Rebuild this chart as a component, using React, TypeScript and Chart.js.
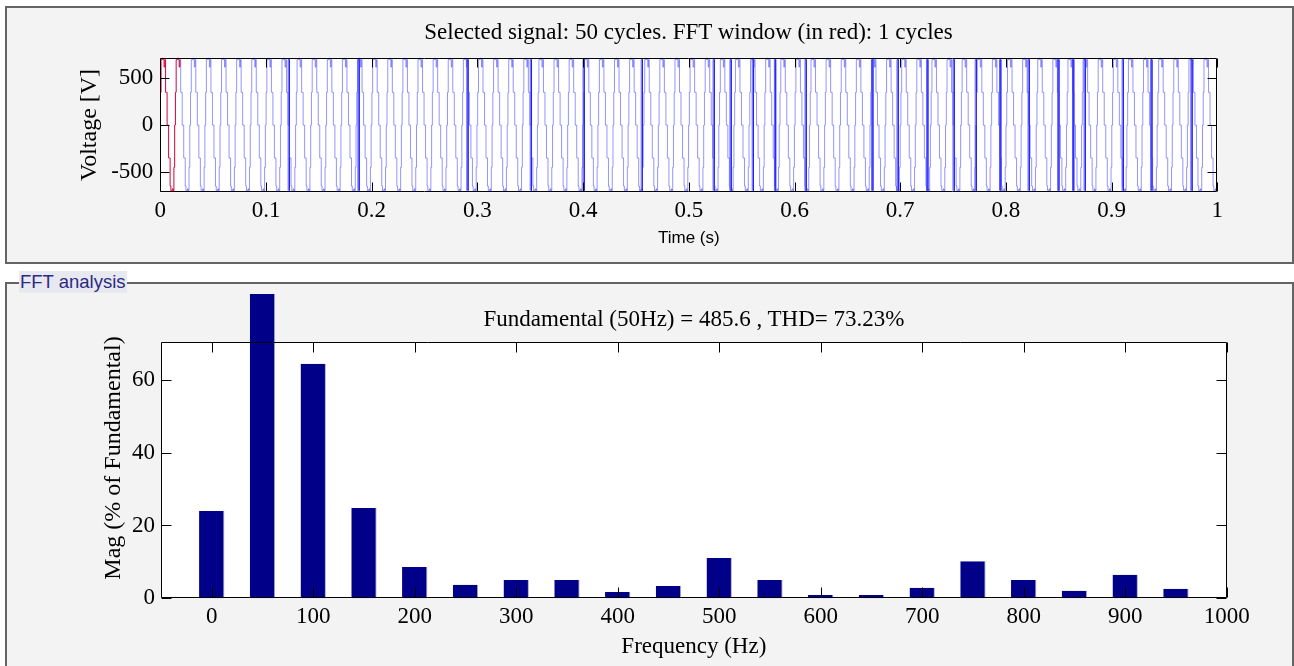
import React, { useEffect, useRef } from "react";
import { Chart, registerables } from "chart.js";

Chart.register(...registerables);

// ---------- data ----------
const timeTickValues = [0, 0.1, 0.2, 0.3, 0.4, 0.5, 0.6, 0.7, 0.8, 0.9, 1];
const voltageTickValues = [-500, 0, 500];
const freqTickValues = [0, 100, 200, 300, 400, 500, 600, 700, 800, 900, 1000];
const magTickValues = [0, 20, 40, 60];

const harmonicFrequencies = [0, 50, 100, 150, 200, 250, 300, 350, 400, 450, 500, 550, 600, 650, 700, 750, 800, 850, 900, 950];
const harmonicMagnitudes = [24.0, 100, 64.4, 24.8, 8.6, 3.7, 5.0, 5.0, 1.7, 3.4, 11.1, 5.0, 0.9, 0.9, 2.9, 10.2, 5.0, 2.1, 6.5, 2.6];

// one apparent cycle of the plotted stepped voltage trace (V)
const traceCycleLevels = [-700, -700, -680, -700, -450, 0, 350, 700, 700, 720, 700, 620, 700, 350, 350, 0, 0, -350, -350, -650];
const traceCycleDuration = 0.0143; // s, apparent period on screen
const traceStartPhase = 6;
const fftWindowEnd = 0.019; // s, red part
const signalDuration = 1; // s

// times (s) of the darker full-swing strokes seen in the trace
const strokeTimes = [
  0.121, 0.187, 0.29, 0.35, 0.4, 0.455,
  0.523, 0.539, 0.56, 0.581, 0.61, 0.673, 0.697, 0.725, 0.75, 0.771,
  0.794, 0.821, 0.849, 0.863, 0.874, 0.91, 0.937, 0.975,
];
const strokeLow = -700;
const strokeHigh = 700;
const strokeWidth = 0.0012; // s

// ---------- helpers ----------
function buildTrace() {
  const n = traceCycleLevels.length;
  const step = traceCycleDuration / n;
  const windowPts: { x: number; y: number }[] = [];
  const restPts: { x: number; y: number }[] = [];
  for (let i = 0; i * step <= signalDuration + 1e-9; i++) {
    const t = i * step;
    const v = traceCycleLevels[(i + traceStartPhase) % n];
    if (t <= fftWindowEnd) windowPts.push({ x: t, y: v });
    else {
      if (restPts.length === 0 && windowPts.length) restPts.push(windowPts[windowPts.length - 1]);
      restPts.push({ x: t, y: v });
    }
  }
  const strokePts: { x: number; y: number | null }[] = [];
  strokeTimes.forEach((t) => {
    strokePts.push({ x: t, y: strokeLow });
    strokePts.push({ x: t, y: strokeHigh });
    strokePts.push({ x: t + strokeWidth, y: strokeHigh });
    strokePts.push({ x: t + strokeWidth, y: strokeLow });
    strokePts.push({ x: t + strokeWidth * 1.5, y: null });
  });
  return { windowPts, restPts, strokePts };
}

const matlabAxes = {
  id: "matlabAxes",
  beforeDatasetsDraw(chart: any) {
    const { ctx, chartArea } = chart;
    ctx.save();
    ctx.fillStyle = "#ffffff";
    ctx.fillRect(chartArea.left, chartArea.top, chartArea.right - chartArea.left, chartArea.bottom - chartArea.top);
    ctx.restore();
  },
  afterDatasetsDraw(chart: any, _args: any, opts: any) {
    const { ctx, chartArea, scales } = chart;
    const { left, right, top, bottom } = chartArea;
    const len = opts.tickLength || 9;
    const L = Math.round(left) + 0.5;
    const R = Math.round(right) - 0.5;
    const T = Math.round(top) + 0.5;
    const B = Math.round(bottom) - 0.5;
    ctx.save();
    ctx.strokeStyle = "#000";
    ctx.lineWidth = 1;
    ctx.beginPath();
    ctx.rect(L, T, R - L, B - T);
    scales.x.ticks.forEach((t: any) => {
      const px = Math.round(scales.x.getPixelForValue(t.value)) + 0.5;
      ctx.moveTo(px, B);
      ctx.lineTo(px, B - len);
      ctx.moveTo(px, T);
      ctx.lineTo(px, T + len);
    });
    scales.y.ticks.forEach((t: any) => {
      const py = Math.round(scales.y.getPixelForValue(t.value)) + 0.5;
      ctx.moveTo(L, py);
      ctx.lineTo(L + len, py);
      ctx.moveTo(R, py);
      ctx.lineTo(R - len, py);
    });
    ctx.stroke();
    ctx.restore();
  },
};

const SERIF = '"Liberation Serif", "Times New Roman", serif';
const SANS = '"Liberation Sans", Arial, sans-serif';

export default function App() {
  const topRef = useRef<HTMLCanvasElement>(null);
  const botRef = useRef<HTMLCanvasElement>(null);

  useEffect(() => {
    const { windowPts, restPts, strokePts } = buildTrace();
    const topChart = new Chart(topRef.current as HTMLCanvasElement, {
      type: "line",
      data: {
        datasets: [
          { data: restPts, borderColor: "rgba(60,60,255,0.55)", borderWidth: 1, pointRadius: 0, stepped: true },
          { data: strokePts, borderColor: "rgba(30,30,255,0.75)", borderWidth: 1, pointRadius: 0, spanGaps: false },
          { data: windowPts, borderColor: "rgb(214,0,64)", borderWidth: 1, pointRadius: 0, stepped: true },
        ],
      },
      options: {
        animation: false,
        responsive: false,
        events: [],
        layout: { padding: { left: 0, top: 49.7, right: 76.7, bottom: 0 } },
        plugins: { legend: { display: false }, tooltip: { enabled: false }, matlabAxes: { tickLength: 9 } } as any,
        scales: {
          x: {
            type: "linear",
            min: 0,
            max: signalDuration,
            afterBuildTicks: (s: any) => {
              s.ticks = timeTickValues.map((v) => ({ value: v }));
            },
            afterFit: (s: any) => {
              s.height = 69.7;
            },
            grid: { display: false, drawTicks: false },
            border: { display: false },
            ticks: {
              padding: 5,
              color: "#000",
              maxRotation: 0,
              autoSkip: false,
              font: { family: SERIF, size: 23 },
              callback: (v: any) => String(v),
            },
            title: {
              display: true,
              text: "Time (s)",
              color: "#000",
              font: { family: SANS, size: 17 },
              padding: { top: 0, bottom: 13.8 },
            },
          },
          y: {
            type: "linear",
            min: -717,
            max: 720,
            afterBuildTicks: (s: any) => {
              s.ticks = voltageTickValues.map((v) => ({ value: v }));
            },
            afterFit: (s: any) => {
              s.width = 160.3;
            },
            grid: { display: false, drawTicks: false },
            border: { display: false },
            ticks: { padding: 7, color: "#000", font: { family: SERIF, size: 23 }, callback: (v: any) => String(v) },
            title: {
              display: true,
              text: "Voltage [V]",
              color: "#000",
              font: { family: SERIF, size: 24 },
              padding: { top: 75, bottom: 0 },
            },
          },
        },
      } as any,
      plugins: [matlabAxes as any],
    });

    const botChart = new Chart(botRef.current as HTMLCanvasElement, {
      type: "bar",
      data: {
        datasets: [
          {
            data: harmonicFrequencies.map((f, i) => ({ x: f, y: harmonicMagnitudes[i] })),
            backgroundColor: "#000088",
            borderColor: "#b0b0c0",
            borderWidth: { right: 1, top: 0, left: 0, bottom: 0 },
            barPercentage: 0.5,
            categoryPercentage: 1,
            clip: false,
          } as any,
        ],
      },
      options: {
        animation: false,
        responsive: false,
        events: [],
        layout: { padding: { left: 0, top: 48, right: 67.3, bottom: 0 } },
        plugins: { legend: { display: false }, tooltip: { enabled: false }, matlabAxes: { tickLength: 10 } } as any,
        scales: {
          x: {
            type: "linear",
            offset: false,
            min: -50,
            max: 1000,
            afterBuildTicks: (s: any) => {
              s.ticks = freqTickValues.map((v) => ({ value: v }));
            },
            afterFit: (s: any) => {
              s.height = 67.7;
            },
            grid: { display: false, drawTicks: false, offset: false },
            border: { display: false },
            ticks: {
              padding: 5,
              color: "#000",
              maxRotation: 0,
              autoSkip: false,
              font: { family: SERIF, size: 23 },
              callback: (v: any) => String(v),
            },
            title: {
              display: true,
              text: "Frequency (Hz)",
              color: "#000",
              font: { family: SERIF, size: 23 },
              padding: { top: 0, bottom: 5.2 },
            },
          },
          y: {
            type: "linear",
            min: 0,
            max: 70.4,
            afterBuildTicks: (s: any) => {
              s.ticks = magTickValues.map((v) => ({ value: v }));
            },
            afterFit: (s: any) => {
              s.width = 161;
            },
            grid: { display: false, drawTicks: false },
            border: { display: false },
            ticks: { padding: 6, color: "#000", font: { family: SERIF, size: 23 }, callback: (v: any) => String(v) },
            title: { display: false },
          },
        },
      } as any,
      plugins: [matlabAxes as any],
    });

    return () => {
      topChart.destroy();
      botChart.destroy();
    };
  }, []);

  return (
    <div
      style={{
        position: "fixed",
        left: 0,
        top: 0,
        width: 1294,
        height: 666,
        background: "#ffffff",
        overflow: "hidden",
        fontFamily: SERIF,
        color: "#000",
      }}
    >
      {/* top panel */}
      <div
        style={{
          position: "absolute",
          left: 5,
          top: 6,
          width: 1289,
          height: 258,
          boxSizing: "border-box",
          border: "2px solid #646464",
          background: "#f3f3f3",
        }}
      />
      {/* bottom panel */}
      <div
        style={{
          position: "absolute",
          left: 5,
          top: 282,
          width: 1289,
          height: 420,
          boxSizing: "border-box",
          border: "2px solid #646464",
          background: "#f3f3f3",
        }}
      />
      <div
        style={{
          position: "absolute",
          left: 19,
          top: 271,
          height: 22,
          lineHeight: "22px",
          padding: "0 1px",
          background: "#e8e8f0",
          color: "#2b2b84",
          fontFamily: SANS,
          fontSize: 18.5,
          whiteSpace: "nowrap",
        }}
      >
        FFT analysis
      </div>
      <canvas ref={topRef} width={1294} height={254} style={{ position: "absolute", left: 0, top: 8 }} />
      <canvas ref={botRef} width={1294} height={372} style={{ position: "absolute", left: 0, top: 294 }} />
      <div
        style={{
          position: "absolute",
          left: 160,
          width: 1057,
          top: 17.5,
          lineHeight: "28px",
          fontSize: 23,
          textAlign: "center",
          whiteSpace: "nowrap",
        }}
      >
        Selected signal: 50 cycles. FFT window (in red): 1 cycles
      </div>
      <div
        style={{
          position: "absolute",
          left: 161,
          width: 1066,
          top: 305,
          lineHeight: "28px",
          fontSize: 23,
          textAlign: "center",
          whiteSpace: "nowrap",
        }}
      >
        Fundamental (50Hz) = 485.6 , THD= 73.23%
      </div>
      <div
        style={{
          position: "absolute",
          left: 111.7 - 160,
          top: 457.5 - 15,
          width: 320,
          height: 30,
          lineHeight: "30px",
          fontSize: 24,
          textAlign: "center",
          whiteSpace: "nowrap",
          transform: "rotate(-90deg)",
        }}
      >
        Mag (% of Fundamental)
      </div>
    </div>
  );
}
